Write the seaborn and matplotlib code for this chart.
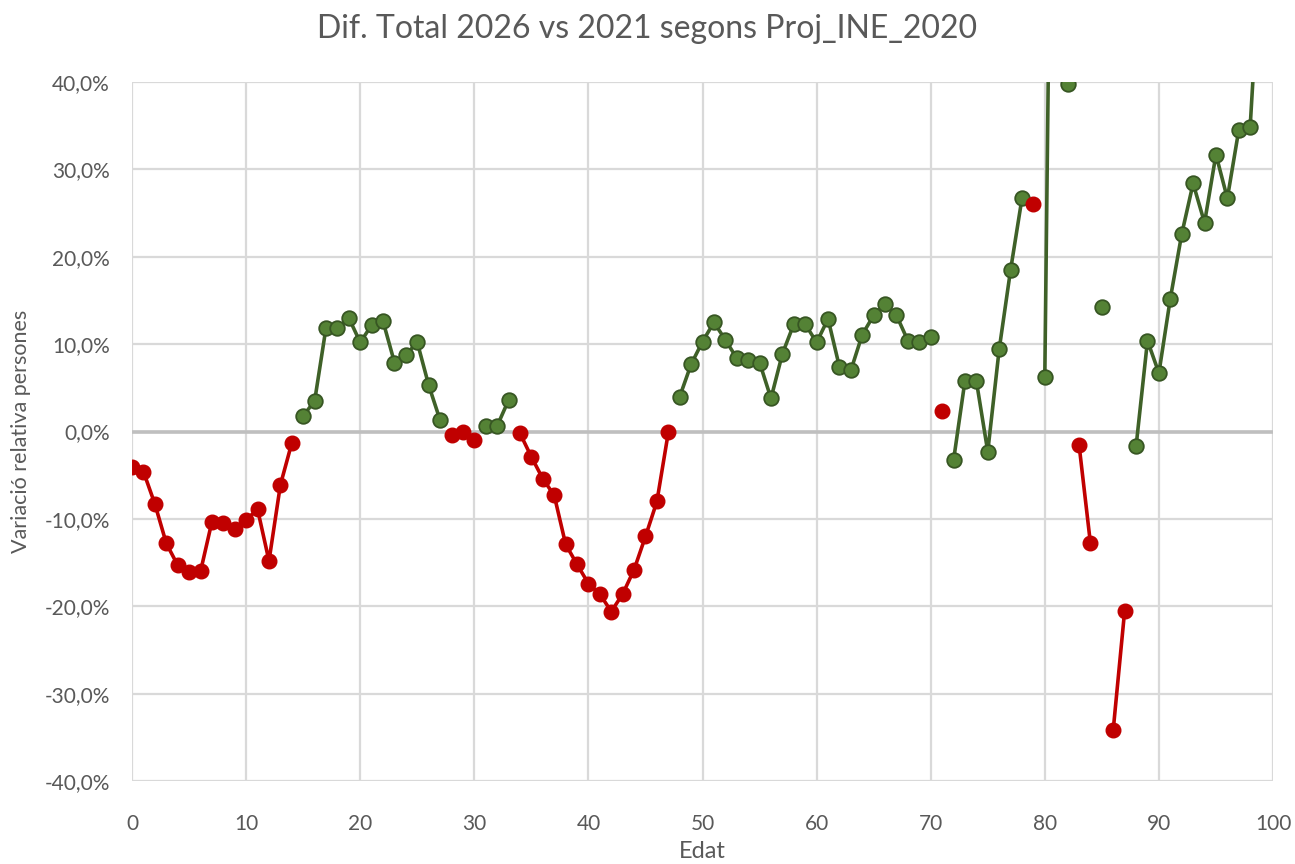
import numpy as np
import pandas as pd
import matplotlib
matplotlib.use("Agg")
import matplotlib.pyplot as plt
import seaborn as sns
from matplotlib.ticker import FuncFormatter, MultipleLocator

# ---- data (relative change, %) ----
red_ages = list(range(0, 15)) + [28, 29, 30] + list(range(34, 48)) + [71, 79, 83, 84, 86, 87]
red_vals = [-4.0, -4.6, -8.3, -12.8, -15.3, -16.1, -16.0, -10.3, -10.5, -11.1, -10.1, -8.9, -14.8, -6.1, -1.3,
            -0.4, 0.0, -1.0,
            -0.2, -2.9, -5.4, -7.3, -12.9, -15.2, -17.4, -18.6, -20.6, -18.6, -15.8, -12.0, -8.0, -0.1,
            2.3, 26.0, -1.5, -12.8, -34.1, -20.5]
green_ages = list(range(15, 28)) + [31, 32, 33] + list(range(48, 71)) + list(range(72, 79)) + [80, 81, 82, 85] + list(range(88, 100))
green_vals = [1.8, 3.5, 11.9, 11.8, 13.0, 10.2, 12.2, 12.6, 7.9, 8.8, 10.2, 5.3, 1.3,
              0.6, 0.65, 3.6,
              4.0, 7.7, 10.3, 12.5, 10.5, 8.4, 8.2, 7.9, 3.8, 8.9, 12.3, 12.3, 10.2, 12.9, 7.4, 7.0,
              11.1, 13.3, 14.6, 13.3, 10.4, 10.3, 10.8,
              -3.3, 5.8, 5.8, -2.3, 9.4, 18.5, 26.7,
              6.3, 120.0, 39.8, 14.2,
              -1.7, 10.4, 6.7, 15.2, 22.6, 28.4, 23.9, 31.7, 26.7, 34.5, 34.9, 57.0]

x_ticks = list(range(0, 101, 10))
y_ticks = list(range(-40, 41, 10))

title = "Dif. Total 2026 vs 2021 segons Proj_INE_2020"
xlabel = "Edat"
ylabel = "Variació relativa persones"


def make_df(a, v):
    df = pd.DataFrame({"age": a, "val": v})
    df["seg"] = (df["age"].diff() != 1).cumsum()
    return df


red_df = make_df(red_ages, red_vals)
green_df = make_df(green_ages, green_vals)

sns.set_theme(style="white")
plt.rcParams["font.family"] = ["Lato", "DejaVu Sans"]

fig = plt.figure(figsize=(12.95, 8.64), dpi=100)
ax = fig.add_axes([0.102, 0.096, 0.881, 0.809])

grid_c = "#d9d9d9"
ax.grid(True, color=grid_c, linewidth=1.6, zorder=0)
ax.set_axisbelow(True)
for s in ax.spines.values():
    s.set_visible(False)
ax.axhline(0, color="#bfbfbf", linewidth=2.6, zorder=1)

red_c = "#c00000"
green_line = "#3f6128"
green_fill = "#548235"
green_edge = "#375623"

sns.lineplot(data=green_df, x="age", y="val", units="seg", estimator=None, ax=ax,
             color=green_line, linewidth=2.6, marker="o", markersize=10.5,
             markerfacecolor=green_fill, markeredgecolor=green_edge, markeredgewidth=1.3,
             legend=False, zorder=3)
sns.lineplot(data=red_df, x="age", y="val", units="seg", estimator=None, ax=ax,
             color=red_c, linewidth=2.6, marker="o", markersize=10.5,
             markerfacecolor=red_c, markeredgecolor=red_c, markeredgewidth=1.0,
             legend=False, zorder=4)

ax.set_xlim(0, 100)
ax.set_ylim(-40, 40)
ax.set_xticks(x_ticks)
ax.set_yticks(y_ticks)
ax.yaxis.set_major_formatter(FuncFormatter(lambda v, p: f"{v:.1f}%".replace(".", ",")))
txt_c = "#595959"
ax.tick_params(axis="both", length=0, labelsize=15, labelcolor=txt_c)
ax.tick_params(axis="y", pad=16)
ax.tick_params(axis="x", pad=24)
ax.set_xlabel(xlabel, fontsize=17, color=txt_c, labelpad=5)
ax.set_ylabel(ylabel, fontsize=15.5, color=txt_c, labelpad=10)
fig.text(0.5, 0.967, title, ha="center", va="center", fontsize=23, color=txt_c)

fig.savefig("out.png", dpi=100, facecolor="white")
